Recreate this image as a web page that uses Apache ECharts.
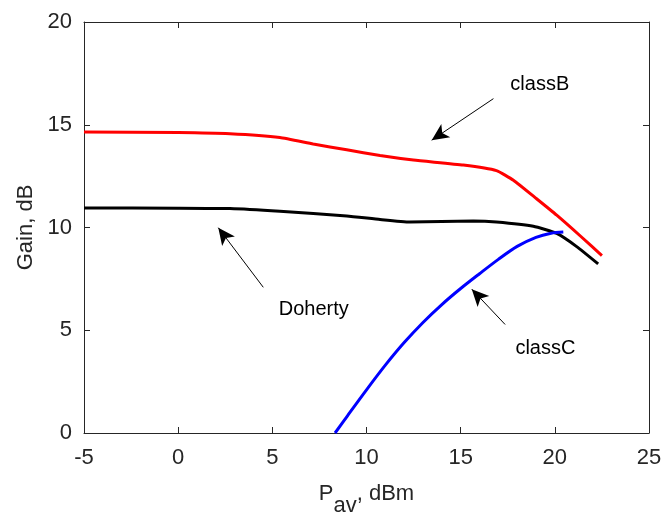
<!DOCTYPE html>
<html>
<head>
<meta charset="utf-8">
<script src="https://cdn.jsdelivr.net/npm/echarts@6/dist/echarts.min.js"></script>
<style>
  html, body { margin: 0; padding: 0; background: #fff; }
  #chart { width: 666px; height: 522px; }
</style>
</head>
<body>
<div id="chart"></div>
<script>
// Gain versus average input power for three amplifier types
const classBX = [-5, 0, 2.75, 5.4, 7.17, 8.95, 10.72, 12.49, 15.14, 16.9, 17.8, 19.03, 20.1, 21.4, 22.5];
const classBY = [14.65, 14.62, 14.56, 14.38, 14.06, 13.78, 13.5, 13.28, 13.04, 12.77, 12.3, 11.4, 10.6, 9.55, 8.63];

const dohertyX = [-5, 0, 2.75, 5.4, 8.95, 10.72, 12.3, 15.67, 16.9, 18.86, 20.1, 21.16, 22.3];
const dohertyY = [10.95, 10.94, 10.92, 10.79, 10.56, 10.39, 10.27, 10.32, 10.27, 10.06, 9.71, 9.07, 8.23];

const classCX = [8.33, 9.0, 10.0, 11.0, 12.0, 13.0, 14.0, 15.0, 16.0, 17.0, 18.0, 19.0, 19.8, 20.45];
const classCY = [0, 0.85, 2.1, 3.3, 4.4, 5.38, 6.25, 7.03, 7.75, 8.45, 9.08, 9.52, 9.72, 9.78];

const xTicks = { min: -5, max: 25, step: 5 };
const yTicks = { min: 0, max: 20, step: 5 };

// Callouts: label text, label anchor, arrow tail, arrow tip (data units)
const calloutNames = ['classB', 'Doherty', 'classC'];
const calloutText = [[19.2, 16.95], [7.2, 6.0], [19.5, 4.1]];
const arrowTail = [[16.74, 16.27], [4.52, 7.09], [17.36, 5.28]];
const arrowTip = [[13.46, 14.25], [2.13, 9.99], [15.59, 7.0]];

const zip = (xs, ys) => xs.map((x, i) => [x, ys[i]]);
const FONT = '"Liberation Sans", Arial, sans-serif';
const AX = '#262626';

const chart = echarts.init(document.getElementById('chart'), null, { renderer: 'canvas' });

const baseX = {
  type: 'value', min: xTicks.min, max: xTicks.max, interval: xTicks.step,
  axisLine: { show: true, onZero: false, lineStyle: { color: AX, width: 1 } },
  axisTick: { show: true, inside: true, length: 6, lineStyle: { color: AX } },
  splitLine: { show: false }
};
const baseY = {
  type: 'value', min: yTicks.min, max: yTicks.max, interval: yTicks.step,
  axisLine: { show: true, onZero: false, lineStyle: { color: AX, width: 1 } },
  axisTick: { show: true, inside: true, length: 6, lineStyle: { color: AX } },
  splitLine: { show: false }
};

chart.setOption({
  animation: false,
  backgroundColor: '#fff',
  grid: { left: 84, right: 17, top: 22, bottom: 86, containLabel: false },
  xAxis: [
    Object.assign({}, baseX, {
      position: 'bottom',
      axisLabel: { show: true, color: AX, fontFamily: FONT, fontSize: 22, margin: 14 },
      name: '{p|P}{s|av}{p|, dBm}',
      nameLocation: 'middle',
      nameGap: 38,
      nameTextStyle: {
        rich: {
          p: { fontFamily: FONT, fontSize: 22, color: AX },
          s: { fontFamily: FONT, fontSize: 22, color: AX, padding: [24, 0, 0, 0] }
        }
      }
    }),
    Object.assign({}, baseX, { position: 'top', axisLabel: { show: false } })
  ],
  yAxis: [
    Object.assign({}, baseY, {
      position: 'left',
      axisLabel: { show: true, color: AX, fontFamily: FONT, fontSize: 22, margin: 12 },
      name: 'Gain, dB',
      nameLocation: 'middle',
      nameGap: 38,
      nameTextStyle: { fontFamily: FONT, fontSize: 22, color: AX }
    }),
    Object.assign({}, baseY, { position: 'right', axisLabel: { show: false } })
  ],
  series: [
    {
      name: 'classB', type: 'line', data: zip(classBX, classBY),
      showSymbol: false, smooth: 0.15,
      lineStyle: { color: '#ff0000', width: 3 }, z: 3
    },
    {
      name: 'Doherty', type: 'line', data: zip(dohertyX, dohertyY),
      showSymbol: false, smooth: 0.15,
      lineStyle: { color: '#000000', width: 3 }, z: 3
    },
    {
      name: 'classC', type: 'line', data: zip(classCX, classCY),
      showSymbol: false, smooth: 0.3,
      lineStyle: { color: '#0000ff', width: 3 }, z: 4
    },
    {
      name: 'callouts', type: 'line', data: [], silent: true,
      markLine: {
        silent: true, animation: false,
        symbol: ['none', 'arrow'], symbolSize: [12, 17],
        lineStyle: { color: '#000', width: 1, type: 'solid' },
        label: { show: false },
        data: arrowTail.map((t, i) => [{ coord: t }, { coord: arrowTip[i] }])
      },
      markPoint: {
        silent: true, animation: false,
        symbol: 'circle', symbolSize: 1,
        itemStyle: { color: 'rgba(0,0,0,0)' },
        label: {
          show: true, position: 'inside', color: '#000',
          fontFamily: FONT, fontSize: 20,
          formatter: p => p.name
        },
        data: calloutNames.map((n, i) => ({ name: n, coord: calloutText[i] }))
      }
    }
  ]
});
</script>
</body>
</html>
